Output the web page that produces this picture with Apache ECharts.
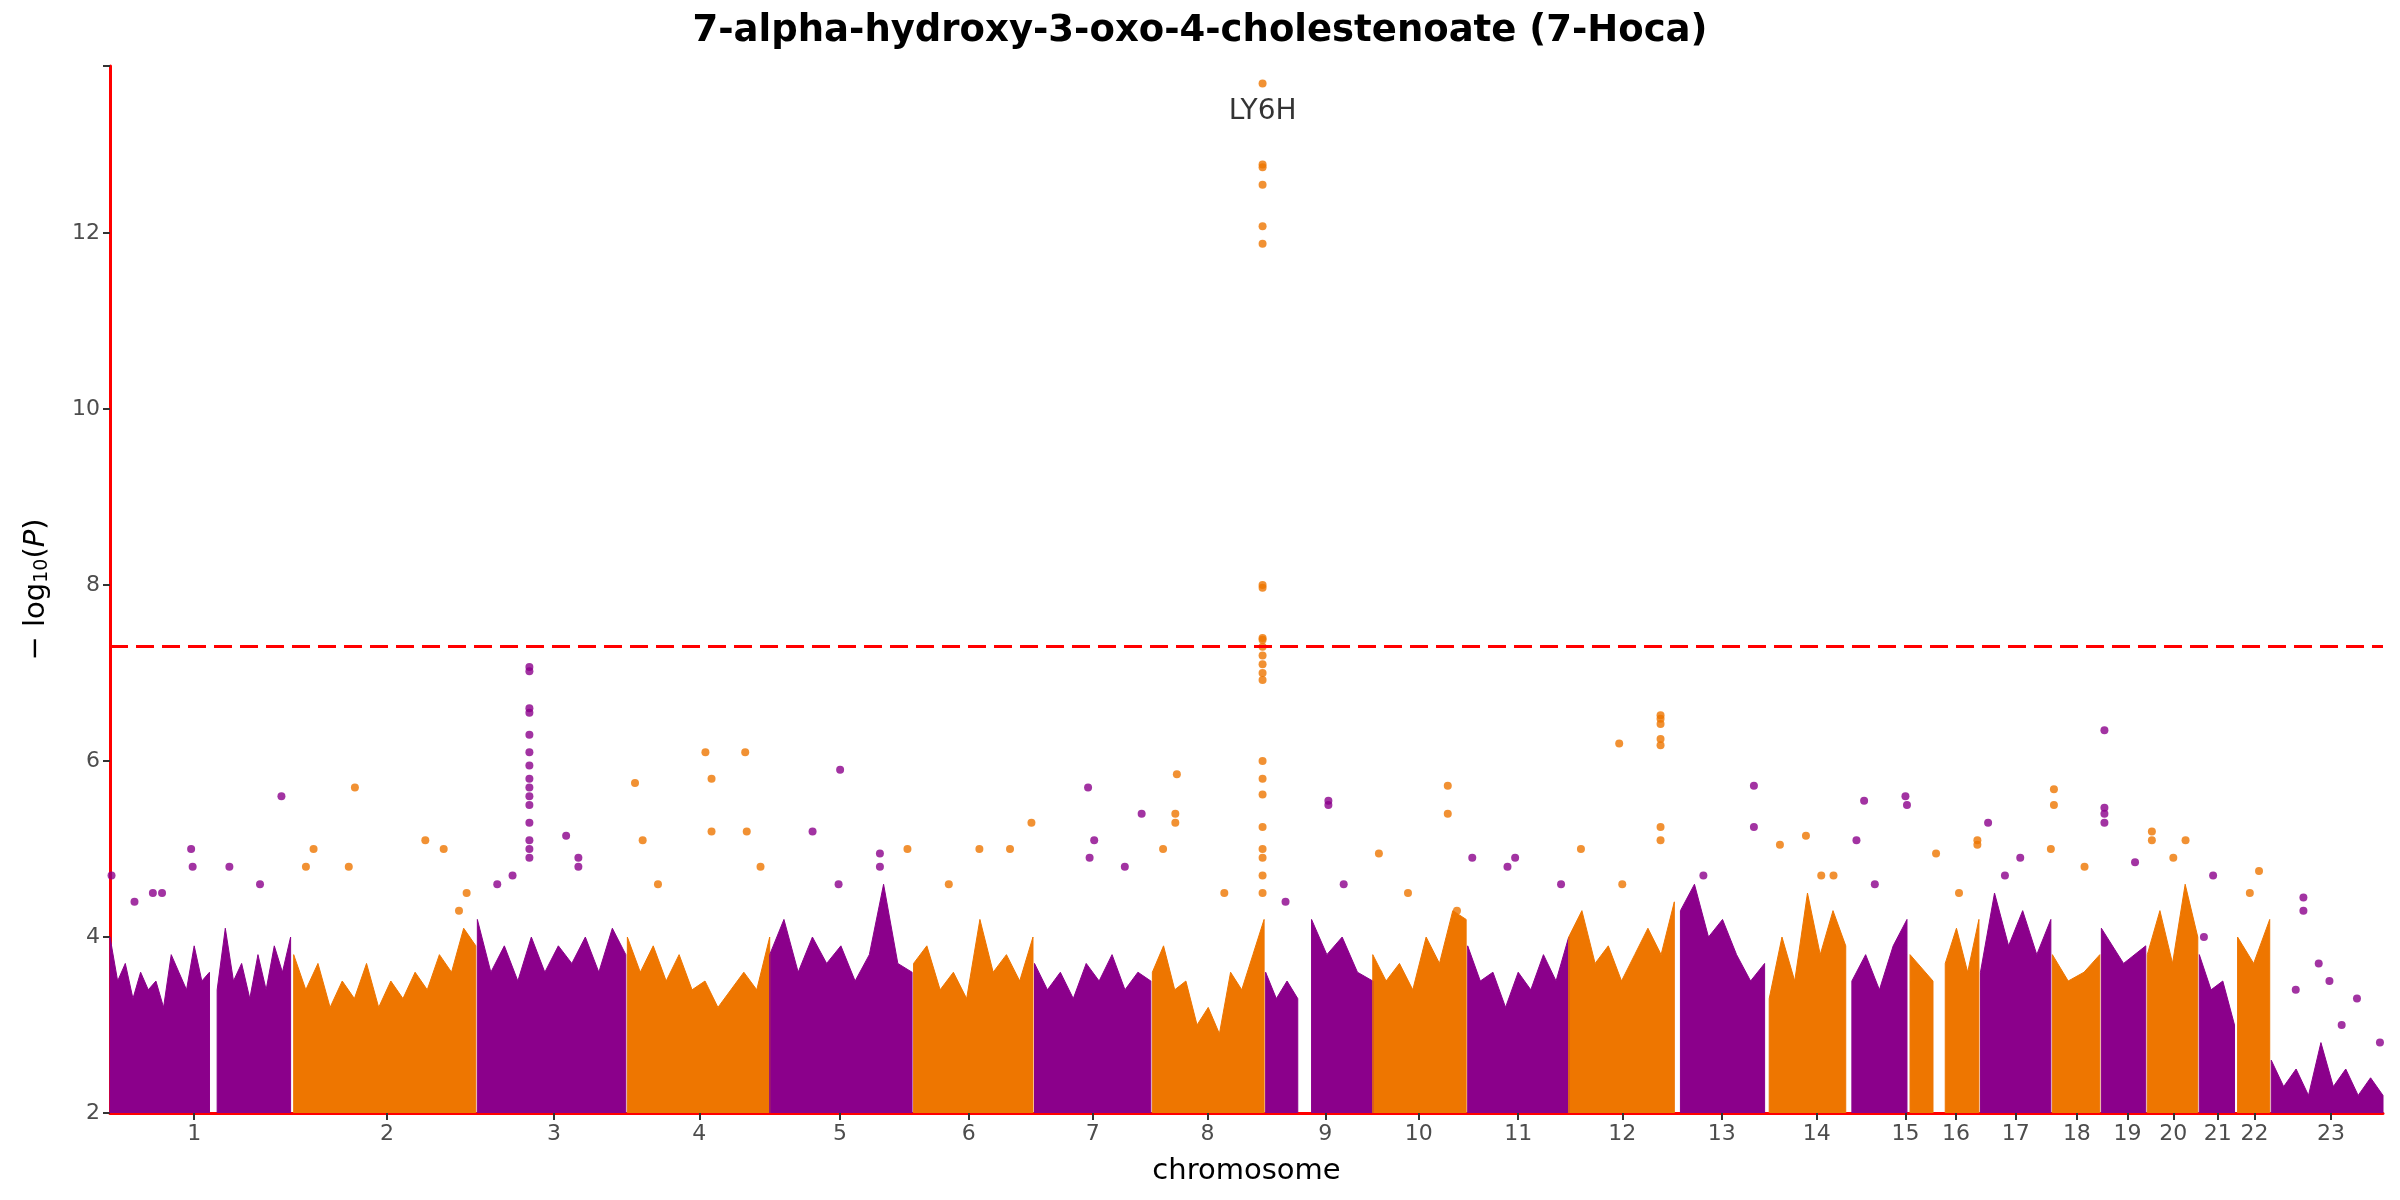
<!DOCTYPE html>
<html lang="en">
<head>
    <meta charset="utf-8">
    <script src="https://cdn.jsdelivr.net/npm/echarts@6/dist/echarts.min.js"></script>
    <title>7-Hoca Manhattan</title>
    <style>
        html, body { margin: 0; padding: 0; background: #fff; }
        #main { width: 2400px; height: 1200px; }
    </style>
</head>
<body>
<div id="main"></div>
<script type="text/javascript">
    // chromosome tick labels and their positions (x units)
    var chrLabels = ['1','2','3','4','5','6','7','8','9','10','11','12','13','14','15','16','17','18','19','20','21','22','23'];
    var chrTickPos = [55,181,290,385,477,561,642,717,794,855,920,988,1053,1115,1173,1206,1245,1285,1318,1348,1377,1401,1451];

    // dense blocks of SNPs: start, end, chromosome, upper envelope
    var blockStart = [0,70,120,240,338,431,525,604,681,755,785,825,887,953,1026,1084,1138,1176,1199,1222,1269,1301,1331,1365,1390,1412];
    var blockEnd   = [65,118,239,337,431,524,603,680,754,776,825,886,953,1022,1081,1134,1174,1191,1221,1268,1300,1330,1364,1388,1411,1485];
    var blockChr   = [1,1,2,3,4,5,6,7,8,9,9,10,11,12,13,14,15,16,16,17,18,19,20,21,22,23];
    var blockTop = [
        [4.0,3.5,3.7,3.3,3.6,3.4,3.5,3.2,3.8,3.6,3.4,3.9,3.5,3.6],
        [3.4,4.1,3.5,3.7,3.3,3.8,3.4,3.9,3.6,4.0],
        [3.8,3.4,3.7,3.2,3.5,3.3,3.7,3.2,3.5,3.3,3.6,3.4,3.8,3.6,4.1,3.9],
        [4.2,3.6,3.9,3.5,4.0,3.6,3.9,3.7,4.0,3.6,4.1,3.8],
        [4.0,3.6,3.9,3.5,3.8,3.4,3.5,3.2,3.4,3.6,3.4,4.0],
        [3.8,4.2,3.6,4.0,3.7,3.9,3.5,3.8,4.6,3.7,3.6],
        [3.7,3.9,3.4,3.6,3.3,4.2,3.6,3.8,3.5,4.0],
        [3.7,3.4,3.6,3.3,3.7,3.5,3.8,3.4,3.6,3.5],
        [3.6,3.9,3.4,3.5,3.0,3.2,2.9,3.6,3.4,3.8,4.2],
        [3.6,3.3,3.5,3.3],
        [4.2,3.8,4.0,3.6,3.5],
        [3.8,3.5,3.7,3.4,4.0,3.7,4.3,4.2],
        [3.9,3.5,3.6,3.2,3.6,3.4,3.8,3.5,4.0],
        [4.0,4.3,3.7,3.9,3.5,3.8,4.1,3.8,4.4],
        [4.3,4.6,4.0,4.2,3.8,3.5,3.7],
        [3.3,4.0,3.5,4.5,3.8,4.3,3.9],
        [3.5,3.8,3.4,3.9,4.2],
        [3.8,3.5],
        [3.7,4.1,3.6,4.2],
        [3.6,4.5,3.9,4.3,3.8,4.2],
        [3.8,3.5,3.6,3.8],
        [4.1,3.7,3.9],
        [3.8,4.3,3.7,4.6,4.0],
        [3.8,3.4,3.5,3.0],
        [4.0,3.7,4.2],
        [2.6,2.3,2.5,2.2,2.8,2.3,2.5,2.2,2.4,2.2]
    ];

    // individual SNPs standing above the mass
    var outX = [1,16,28,34,53,54,112,78,98,
        128,133,160,156,206,218,228,233,
        274,274,274,274,274,274,274,274,274,274,274,274,274,274,274,298,306,306,253,263,
        343,348,389,393,393,415,416,425,358,
        459,477,503,503,476,
        521,568,588,602,548,
        639,640,643,674,663,
        697,696,696,688,728,753,753,753,753,753,753,753,753,753,753,753,753,753,753,753,753,753,753,753,753,753,753,753,
        796,796,806,768,
        829,874,874,848,880,
        890,918,913,948,
        961,986,1013,1013,1013,1013,1013,1013,1013,988,
        1074,1074,1041,
        1091,1108,1126,1118,
        1141,1146,1173,1174,1153,
        1193,1220,1220,1208,
        1227,1248,1238,
        1270,1270,1268,1290,
        1303,1303,1303,1303,1323,
        1334,1334,1356,1348,
        1374,1368,
        1404,1398,
        1433,1433,1450,1468,1483,1458,1443,1428];
    var outY = [4.7,4.4,4.5,4.5,5.0,4.8,5.6,4.8,4.6,
        4.8,5.0,5.7,4.8,5.1,5.0,4.3,4.5,
        7.07,7.02,6.6,6.55,6.3,6.1,5.95,5.8,5.7,5.6,5.5,5.3,5.1,5.0,4.9,5.15,4.9,4.8,4.6,4.7,
        5.75,5.1,6.1,5.8,5.2,6.1,5.2,4.8,4.6,
        5.2,5.9,4.95,4.8,4.6,
        5.0,5.0,5.0,5.3,4.6,
        5.7,4.9,5.1,5.4,4.8,
        5.85,5.4,5.3,5.0,4.5,13.7,12.78,12.75,12.55,12.08,11.88,8.0,7.97,7.4,7.38,7.3,7.2,7.1,7.0,6.92,6.0,5.8,5.62,5.25,5.0,4.9,4.7,4.5,
        5.55,5.5,4.6,4.4,
        4.95,5.72,5.4,4.5,4.3,
        4.9,4.9,4.8,4.6,
        5.0,6.2,6.52,6.48,6.42,6.25,6.18,5.25,5.1,4.6,
        5.72,5.25,4.7,
        5.05,5.15,4.7,4.7,
        5.1,5.55,5.6,5.5,4.6,
        4.95,5.1,5.05,4.5,
        5.3,4.9,4.7,
        5.68,5.5,5.0,4.8,
        6.35,5.47,5.4,5.3,4.85,
        5.2,5.1,5.1,4.9,
        4.7,4.0,
        4.75,4.5,
        4.45,4.3,3.5,3.3,2.8,3.0,3.7,3.4];
    var outChr = [1,1,1,1,1,1,1,1,1,
        2,2,2,2,2,2,2,2,
        3,3,3,3,3,3,3,3,3,3,3,3,3,3,3,3,3,3,3,3,
        4,4,4,4,4,4,4,4,4,
        5,5,5,5,5,
        6,6,6,6,6,
        7,7,7,7,7,
        8,8,8,8,8,8,8,8,8,8,8,8,8,8,8,8,8,8,8,8,8,8,8,8,8,8,8,8,
        9,9,9,9,
        10,10,10,10,10,
        11,11,11,11,
        12,12,12,12,12,12,12,12,12,12,
        13,13,13,
        14,14,14,14,
        15,15,15,15,15,
        16,16,16,16,
        17,17,17,
        18,18,18,18,
        19,19,19,19,19,
        20,20,20,20,
        21,21,
        22,22,
        23,23,23,23,23,23,23,23];

    var purple = '#8B008B', orange = '#EE7600';
    function chrColor(c) { return c % 2 === 1 ? purple : orange; }

    var series = [];
    blockTop.forEach(function (tops, i) {
        var n = tops.length, s = blockStart[i], e = blockEnd[i];
        var data = tops.map(function (v, k) {
            return [n === 1 ? s : s + (e - s) * k / (n - 1), v];
        });
        data.unshift([s, 2]);
        data.push([e, 2]);
        series.push({
            type: 'line', data: data, symbol: 'none', silent: true,
            lineStyle: { width: 1, color: chrColor(blockChr[i]) },
            areaStyle: { color: chrColor(blockChr[i]), opacity: 1, origin: 'start' },
            z: 2
        });
    });

    var purplePts = [], orangePts = [];
    outX.forEach(function (x, i) {
        (outChr[i] % 2 === 1 ? purplePts : orangePts).push([x, outY[i]]);
    });
    series.push({ type: 'scatter', data: purplePts, symbolSize: 8, itemStyle: { color: purple }, z: 3 });
    series.push({ type: 'scatter', data: orangePts, symbolSize: 8, itemStyle: { color: orange }, z: 3 });
    series.push({
        type: 'scatter', data: [[753, 13.38]], symbolSize: 0, z: 4,
        label: { show: true, formatter: 'LY6H', position: 'inside', fontSize: 28, color: '#000', fontFamily: 'DejaVu Sans' },
        markLine: {
            silent: true, symbol: 'none', label: { show: false },
            lineStyle: { color: '#FF0000', type: [18, 8], width: 3 },
            data: [{ yAxis: 7.3 }]
        }
    });

    var myChart = echarts.init(document.getElementById('main'));
    var option = {
        animation: false,
        title: {
            text: '7-alpha-hydroxy-3-oxo-4-cholestenoate (7-Hoca)',
            left: 'center', top: 8,
            textStyle: { fontSize: 37, fontWeight: 'bold', color: '#000', fontFamily: 'DejaVu Sans' }
        },
        grid: { left: 110, right: 17, top: 66, bottom: 87 },
        xAxis: {
            type: 'value', min: 0, max: 1485,
            name: 'chromosome', nameLocation: 'middle', nameGap: 44,
            nameTextStyle: { fontSize: 29, color: '#000', fontFamily: 'DejaVu Sans' },
            axisLine: { lineStyle: { color: '#FF0000', width: 3 } },
            axisTick: { show: true, customValues: chrTickPos, length: 7, lineStyle: { color: '#333', width: 2 } },
            axisLabel: {
                customValues: chrTickPos, fontSize: 22, color: '#4d4d4d', margin: 10, fontFamily: 'DejaVu Sans',
                formatter: function (v) {
                    var idx = chrTickPos.indexOf(v);
                    return idx >= 0 ? chrLabels[idx] : '';
                }
            },
            splitLine: { show: false }
        },
        yAxis: {
            type: 'value', min: 2, max: 13.9, interval: 2,
            name: '{a|− log}{s|10}{a|(}{i|P}{a|)}', nameLocation: 'middle', nameGap: 58, nameRotate: 90,
            nameTextStyle: {
                rich: {
                    a: { fontSize: 29, color: '#000', fontFamily: 'DejaVu Sans' },
                    i: { fontSize: 29, color: '#000', fontStyle: 'italic', fontFamily: 'DejaVu Sans' },
                    s: { fontSize: 19, color: '#000', verticalAlign: 'bottom', padding: [12, 0, 0, 0], fontFamily: 'DejaVu Sans' }
                }
            },
            axisLine: { show: true, lineStyle: { color: '#FF0000', width: 3 } },
            axisTick: { show: true, length: 7, lineStyle: { color: '#333', width: 2 } },
            axisLabel: {
                fontSize: 22, color: '#4d4d4d', margin: 10, fontFamily: 'DejaVu Sans',
                formatter: function (v) { return v > 13 ? '' : v; }
            },
            splitLine: { show: false }
        },
        series: series
    };
    myChart.setOption(option);
</script>
</body>
</html>
